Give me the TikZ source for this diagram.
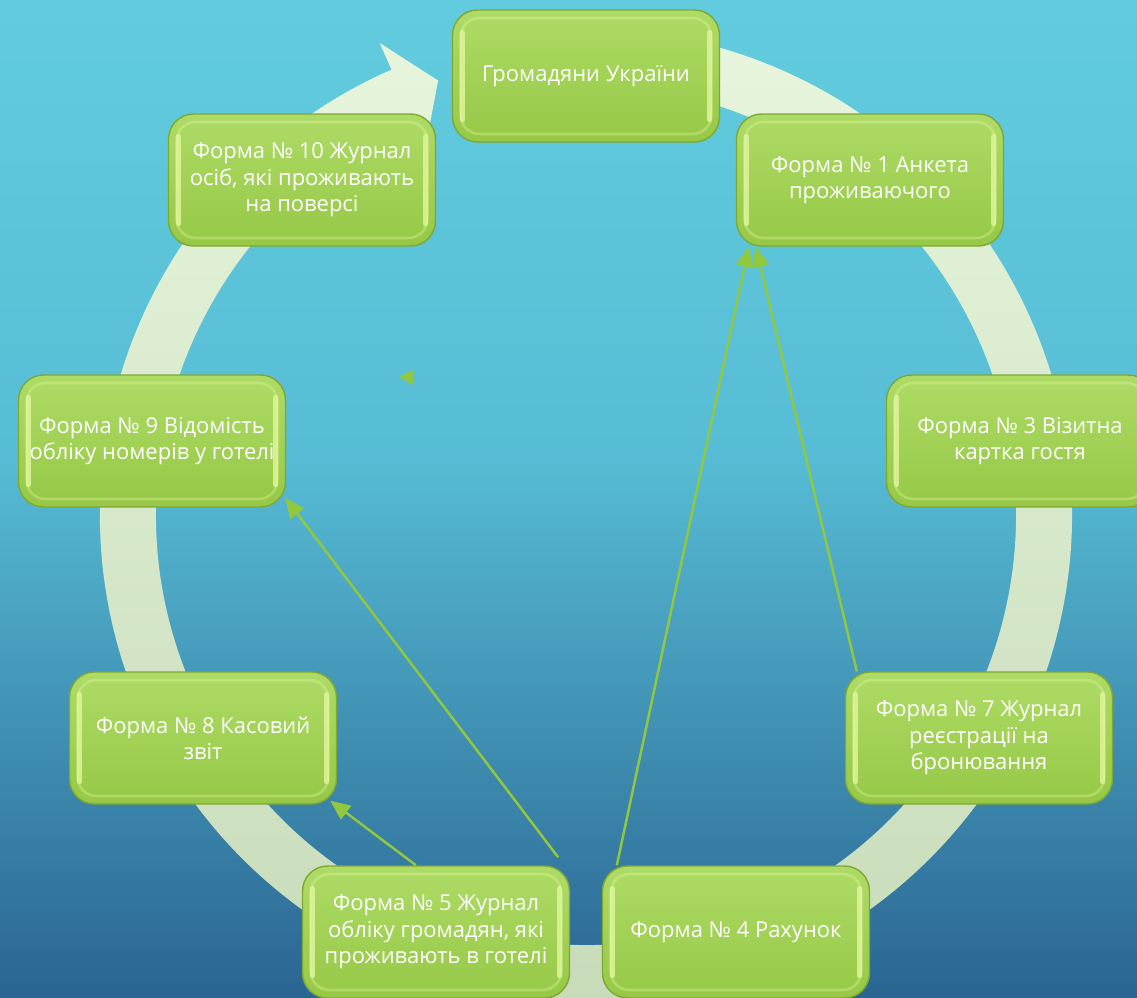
\documentclass[tikz,border=0pt]{standalone}
\usepackage{fontspec}
\setmainfont{Open Sans}
\usetikzlibrary{arrows.meta,calc}

\definecolor{bgtop}{HTML}{62CCDE}
\definecolor{bgmid}{HTML}{57BDD5}
\definecolor{bgbot}{HTML}{2A6592}
\definecolor{ringtop}{HTML}{E6F5DC}
\definecolor{ringbot}{HTML}{C6DAB8}
\definecolor{boxtop}{HTML}{AEDB66}
\definecolor{boxbot}{HTML}{96C846}
\definecolor{boxedge}{HTML}{7FA832}
\definecolor{boxhi}{HTML}{E2F79E}
\definecolor{linkcol}{HTML}{92C83E}

\tikzset{
  form/.style={rectangle, rounded corners=0.5cm, minimum width=5.34cm,
    minimum height=2.64cm, top color=boxtop, bottom color=boxbot,
    draw=boxedge, line width=0.8pt, text=white, align=center,
    font=\fontsize{12.5}{15}\selectfont,
    path picture={
      \draw[boxhi, line width=1.5pt, opacity=0.35, rounded corners=0.38cm]
        ([shift={(0.16cm,-0.16cm)}]path picture bounding box.north west) rectangle
        ([shift={(-0.16cm,0.16cm)}]path picture bounding box.south east);
      \draw[boxhi, line width=3pt, opacity=0.8, line cap=round]
        ([shift={(0.2cm,-0.45cm)}]path picture bounding box.north west) --
        ([shift={(0.2cm,0.45cm)}]path picture bounding box.south west);
      \draw[boxhi, line width=3pt, opacity=0.8, line cap=round]
        ([shift={(-0.2cm,-0.45cm)}]path picture bounding box.north east) --
        ([shift={(-0.2cm,0.45cm)}]path picture bounding box.south east);}},
  link/.style={linkcol, line width=1.4pt, -{Triangle[length=0.4cm,width=0.34cm]}}
}

\begin{document}
\begin{tikzpicture}[x=0.02cm, y=0.02cm]
\useasboundingbox (0,0) rectangle (1137,-998);
\shade[top color=bgtop, bottom color=bgmid] (0,0) rectangle (1137,-451);
\shade[top color=bgmid, bottom color=bgbot] (0,-450) rectangle (1137,-998);

\begin{scope}[shift={(586,-515)}]
\shade[top color=ringtop, bottom color=ringbot]
  (80:486) arc[start angle=80, end angle=-246.4, radius=486]
  -- (113.6:515) -- (108.8:459) -- (113.6:401) -- (113.6:430)
  arc[start angle=113.6, end angle=440, radius=430] -- cycle;
\end{scope}

\fill[linkcol] (399,-377) -- (413,-370) -- (413,-385) -- cycle;

\node[form] (grom) at (586,-76) {Громадяни України};
\node[form] (f1) at (870,-180) {Форма № 1 Анкета\\проживаючого};
\node[form] (f3) at (1020,-441) {Форма № 3 Візитна\\картка гостя};
\node[form] (f7) at (979,-738) {Форма № 7 Журнал\\реєстрації на\\бронювання};
\node[form] (f4) at (736,-932) {Форма № 4 Рахунок};
\node[form] (f5) at (436,-932) {Форма № 5 Журнал\\обліку громадян, які\\проживають в готелі};
\node[form] (f8) at (203,-738) {Форма № 8 Касовий\\звіт};
\node[form] (f9) at (152,-441) {Форма № 9 Відомість\\обліку номерів у готелі};
\node[form] (f10) at (302,-180) {Форма № 10 Журнал\\осіб, які проживають\\на поверсі};

\draw[link] ($(f5.north east)+(-12,8)$) -- ($(f9.south east)+(-1,10)$);
\draw[link] ($(f5.north)+(-20,0)$) -- ($(f8.south east)+(-7,4)$);
\draw[link] ($(f4.north west)+(15,0)$) -- ($(f1.south west)+(13,0)$);
\draw[link] ($(f7.north west)+(12,0)$) -- ($(f1.south west)+(20,0)$);
\end{tikzpicture}
\end{document}
